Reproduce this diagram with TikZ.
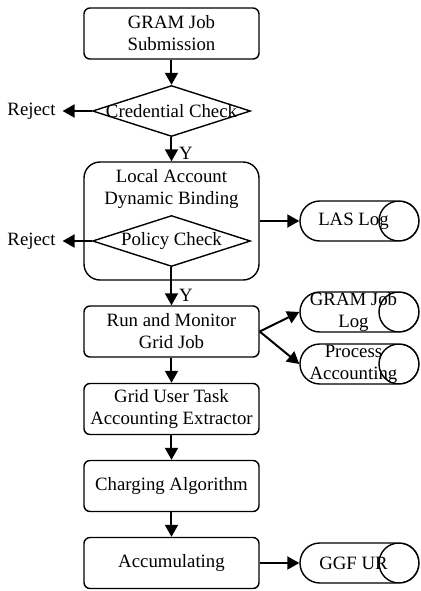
\documentclass[tikz,border=0pt]{standalone}
\usepackage{fontspec}
\setmainfont{Liberation Serif}
\usetikzlibrary{shapes.geometric,arrows.meta}
\tikzset{
  procbox/.style={draw, rounded corners=3pt, line width=0.7pt, minimum width=87.5pt,
    minimum height=25.5pt, align=center, inner sep=1pt},
  decision/.style={draw, diamond, line width=0.7pt, minimum width=79pt,
    minimum height=25.5pt, inner sep=0pt},
  logfile/.style={draw, rounded corners=9.9pt, line width=0.7pt, minimum width=59.5pt,
    minimum height=20pt, inner sep=0pt,
    path picture={\draw[line width=0.7pt] ([xshift=-10pt]path picture bounding box.east)
      circle[radius=10pt];}},
  logtext/.style={align=center, xshift=-3pt},
  flow/.style={line width=1pt, -{Triangle[length=6pt,width=6.5pt]}},
}
\begin{document}
\begin{tikzpicture}[x=0.5pt,y=-0.5pt,font=\fontsize{9.4}{11}\selectfont]
\useasboundingbox (0,0) rectangle (421,591);
\node[procbox] (submit) at (171.5,33.5) {GRAM Job\\Submission};
\node[decision, label={center:Credential Check}] (cred) at (171.5,111) {};
\node (reject1) at (31.5,111) {Reject};
\node[procbox, rounded corners=8pt, minimum height=59pt] (bind) at (171.5,221) {};
\node[align=center] (bindtxt) at (171.5,189) {Local Account\\Dynamic Binding};
\node[decision, label={center:Policy Check}] (policy) at (171.5,241) {};
\node (reject2) at (31.5,241) {Reject};
\node[logfile, label={[logtext]center:LAS Log}] (laslog) at (359.5,221) {};
\node[procbox] (run) at (171.5,331.5) {Run and Monitor\\Grid Job};
\node[logfile, label={[logtext]center:GRAM Job\\Log}] (gramlog) at (359.5,312) {};
\node[logfile, label={[logtext]center:Process\\Accounting}] (procacc) at (359.5,364) {};
\node[procbox] (extract) at (171.5,409) {Grid User Task\\Accounting Extractor};
\node[procbox] (charge) at (171.5,486) {Charging Algorithm};
\node[procbox] (accum) at (171.5,563) {Accumulating};
\node[logfile, label={[logtext]center:GGF UR}] (ggfur) at (359.5,563) {};

\draw[flow] (submit) -- (cred);
\draw[flow] (cred) -- (reject1);
\draw[flow] (cred) -- node[right, pos=0.65] {Y} (bind);
\draw[flow] (policy) -- (reject2);
\draw[flow] (bind) -- (laslog);
\draw[flow] (policy.south) -- node[right, pos=0.75] {Y} (run.north);
\draw[flow] (run.east) -- (gramlog.west);
\draw[flow] (run.east) -- (procacc.west);
\draw[flow] (run) -- (extract);
\draw[flow] (extract) -- (charge);
\draw[flow] (charge) -- (accum);
\draw[flow] (accum) -- (ggfur);
\end{tikzpicture}
\end{document}
